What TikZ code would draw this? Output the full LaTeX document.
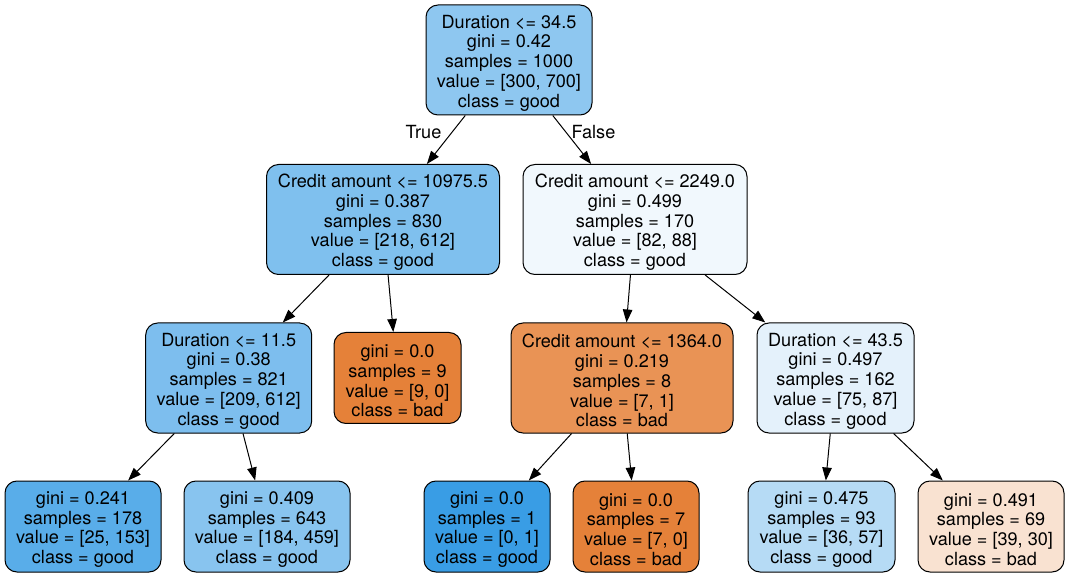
\documentclass[tikz,border=0pt]{standalone}
\usepackage{fontspec}
\setmainfont{TeX Gyre Heros}
\usetikzlibrary{arrows.meta,positioning}
\definecolor{c0}{RGB}{142,199,240}
\definecolor{c1}{RGB}{127,192,238}
\definecolor{c2}{RGB}{241,248,253}
\definecolor{c3}{RGB}{125,190,238}
\definecolor{c5}{RGB}{233,147,85}
\definecolor{c6}{RGB}{228,241,251}
\definecolor{c7}{RGB}{89,173,233}
\definecolor{c8}{RGB}{136,196,239}
\definecolor{c11}{RGB}{182,219,245}
\definecolor{c12}{RGB}{249,226,209}
\definecolor{good}{RGB}{57,157,229}
\definecolor{bad}{RGB}{229,129,57}
\newcommand{\lift}{\rule{0pt}{19pt}}
\tikzset{
  split/.style = {draw, rectangle, rounded corners=12pt, line width=1pt,
                  align=center, inner sep=0pt, minimum height=110pt,
                  font=\fontsize{18.1}{19.75}\selectfont},
  leaf/.style  = {split, minimum height=91pt},
  pre/.style   = {{Triangle[length=13pt,width=9.5pt]}-, line width=1pt},
  lbl/.style   = {inner sep=0pt, font=\fontsize{18.1}{19.75}\selectfont}
}

\begin{document}
\begin{tikzpicture}[x=1pt, y=-1pt]
    \useasboundingbox (0,0) rectangle (1069,577);
    % depth 0
    \node[split, fill=c0, minimum width=166pt] (n0) at (509,60)
      {\lift Duration <= 34.5\\gini = 0.42\\samples = 1000\\value = [300, 700]\\class = good};
    % depth 1
    \node[split, fill=c1, minimum width=233pt] (n1) at (383,219.5)
      {\lift Credit amount <= 10975.5\\gini = 0.387\\samples = 830\\value = [218, 612]\\class = good}
    edge [pre] node[lbl, pos=.65, left=10pt] {True} (n0);
    \node[split, fill=c2, minimum width=224pt] (n2) at (635,219.5)
      {\lift Credit amount <= 2249.0\\gini = 0.499\\samples = 170\\value = [82, 88]\\class = good}
    edge [pre] node[lbl, pos=.65, right=5pt] {False} (n0);
    % depth 2
    \node[split, fill=c3, minimum width=166pt] (n3) at (228.7,378)
      {\lift Duration <= 11.5\\gini = 0.38\\samples = 821\\value = [209, 612]\\class = good}
    edge [pre] (n1);
    \node[leaf, fill=bad, minimum width=127pt] (n4) at (397.5,378)
      {\lift gini = 0.0\\samples = 9\\value = [9, 0]\\class = bad}
    edge [pre] (n1);
    \node[split, fill=c5, minimum width=222pt] (n5) at (622,378)
      {\lift Credit amount <= 1364.0\\gini = 0.219\\samples = 8\\value = [7, 1]\\class = bad}
    edge [pre] (n2);
    \node[split, fill=c6, minimum width=157pt] (n6) at (835.5,378)
      {\lift Duration <= 43.5\\gini = 0.497\\samples = 162\\value = [75, 87]\\class = good}
    edge [pre] (n2);
    % depth 3
    \node[leaf, fill=c7, minimum width=156pt] (n7) at (83,526.5)
      {\lift gini = 0.241\\samples = 178\\value = [25, 153]\\class = good}
    edge [pre] (n3);
    \node[leaf, fill=c8, minimum width=166pt] (n8) at (267,526.5)
      {\lift gini = 0.409\\samples = 643\\value = [184, 459]\\class = good}
    edge [pre] (n3);
    \node[leaf, fill=good, minimum width=126pt] (n9) at (487,526.5)
      {\lift gini = 0.0\\samples = 1\\value = [0, 1]\\class = good}
    edge [pre] (n5);
    \node[leaf, fill=bad, minimum width=126pt] (n10) at (636,526.5)
      {\lift gini = 0.0\\samples = 7\\value = [7, 0]\\class = bad}
    edge [pre] (n5);
    \node[leaf, fill=c11, minimum width=147pt] (n11) at (821.5,526.5)
      {\lift gini = 0.475\\samples = 93\\value = [36, 57]\\class = good}
    edge [pre] (n6);
    \node[leaf, fill=c12, minimum width=146pt] (n12) at (991,526.5)
      {\lift gini = 0.491\\samples = 69\\value = [39, 30]\\class = bad}
    edge [pre] (n6);
\end{tikzpicture}
\end{document}
